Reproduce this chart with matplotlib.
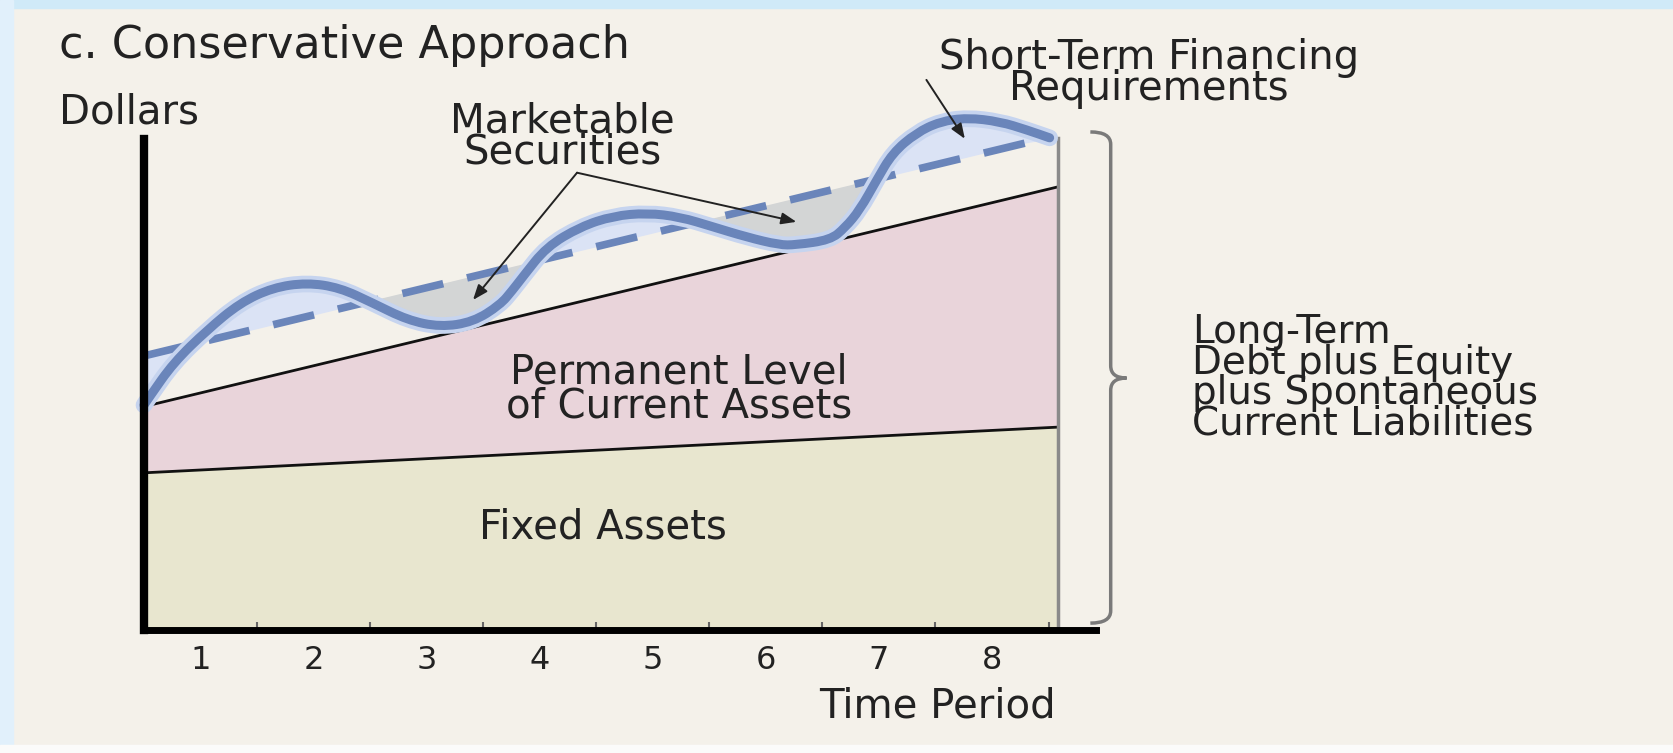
import numpy as np
import matplotlib
matplotlib.use("Agg")
import matplotlib.pyplot as plt
from matplotlib.patches import Rectangle, PathPatch
from matplotlib.path import Path

# ---------------- data ----------------
periods = ['1', '2', '3', '4', '5', '6', '7', '8']
period_centers = [0.5, 1.5, 2.5, 3.5, 4.5, 5.5, 6.5, 7.5]
period_ticks = [1, 2, 3, 4, 5, 6, 7, 8]

# total asset requirement (wavy curve)
curve_t = [0.00, 0.05, 0.26, 0.56, 0.85, 1.14, 1.44, 1.73, 2.02, 2.33, 2.62,
           2.91, 3.15, 3.26, 3.35, 3.56, 3.86, 4.15, 4.45, 4.74, 5.03, 5.33,
           5.62, 5.76, 6.07, 6.20, 6.33, 6.48, 6.62, 6.83, 7.04, 7.28, 7.57,
           7.81, 8.01]
curve_y = [4.58, 4.75, 5.44, 6.11, 6.66, 6.97, 7.07, 6.97, 6.66, 6.31, 6.17,
           6.27, 6.62, 6.92, 7.19, 7.80, 8.21, 8.43, 8.49, 8.41, 8.21, 8.00,
           7.84, 7.84, 7.94, 8.19, 8.55, 9.16, 9.71, 10.12, 10.35, 10.43, 10.35,
           10.18, 10.02]

# long-term financing level (dashed)
dashed_t = [0.0, 7.95]
dashed_y = [5.58, 10.0]

# permanent level of current assets (top of pink band)
permanent_t = [0.0, 8.08]
permanent_y = [4.55, 9.02]

# fixed assets (top of beige band)
fixed_t = [0.0, 8.08]
fixed_y = [3.20, 4.13]

# ---------------- style ----------------
BG = '#f4f1ea'
BEIGE = '#e8e6cf'
PINK = '#e9d4da'
LIGHTBLUE = '#dbe3f5'
GRAY = '#d3d5d5'
CURVE = '#6a85ba'
HALO = '#c6d4ef'
TXT = '#222222'
plt.rcParams['font.family'] = ['DejaVu Sans']

W, H = 1673, 753
fig = plt.figure(figsize=(W / 100, H / 100), dpi=100)
fig.patch.set_facecolor(BG)

# light-blue frame around the panel
fig.patches.append(Rectangle((0, 1 - 8 / H), 1, 8 / H, transform=fig.transFigure,
                             color='#d0eaf8', zorder=-10))
fig.patches.append(Rectangle((0, 0), 13 / W, 1, transform=fig.transFigure,
                             color='#e1f0fb', zorder=-10))
fig.patches.append(Rectangle((0, 0), 1, 8 / H, transform=fig.transFigure,
                             color='#fbfbfa', zorder=-10))

ax = fig.add_axes([144 / W, 123 / H, 952 / W, 529 / H])
ax.set_facecolor('none')
ax.set_xlim(0, 8.42)
ax.set_ylim(0, 10.77)

ct = np.array(curve_t)
cy = np.array(curve_y)
dash_at = np.interp(ct, dashed_t, dashed_y)

# bands
ax.fill_between(fixed_t, 0, fixed_y, color=BEIGE, lw=0, zorder=1)
ax.fill_between(fixed_t, fixed_y, permanent_y, color=PINK, lw=0, zorder=1)
ax.plot(fixed_t, fixed_y, color='#111111', lw=2.0, zorder=2)
ax.plot(permanent_t, permanent_y, color='#111111', lw=2.0, zorder=2)

# fluctuating area between curve and dashed line
ax.fill_between(ct, cy, dash_at, color=LIGHTBLUE, lw=0, zorder=3)
ax.fill_between(ct, cy, dash_at, where=(cy < dash_at) & (ct > 1), interpolate=True,
                color=GRAY, lw=0, zorder=3)

ax.plot(dashed_t, dashed_y, color=CURVE, lw=5.5, linestyle=(0, (5.5, 3.2)),
        dash_capstyle='butt', zorder=4)


def smooth_path(xs, ys):
    """Quadratic Bezier path through the midpoints of the read points."""
    pts = list(zip(xs, ys))
    verts = [pts[0]]
    codes = [Path.MOVETO]
    verts.append(((pts[0][0] + pts[1][0]) / 2, (pts[0][1] + pts[1][1]) / 2))
    codes.append(Path.LINETO)
    for i in range(1, len(pts) - 1):
        mid = ((pts[i][0] + pts[i + 1][0]) / 2, (pts[i][1] + pts[i + 1][1]) / 2)
        verts += [pts[i], mid]
        codes += [Path.CURVE3, Path.CURVE3]
    verts.append(pts[-1])
    codes.append(Path.LINETO)
    return Path(verts, codes)


curve_path = smooth_path(curve_t, curve_y)
ax.add_patch(PathPatch(curve_path, fill=False, edgecolor=HALO, lw=12,
                       capstyle='round', joinstyle='round', zorder=5,
                       clip_on=False))
ax.add_patch(PathPatch(curve_path, fill=False, edgecolor=CURVE, lw=6.5,
                       capstyle='round', joinstyle='round', zorder=6,
                       clip_on=False))

# right edge of the chart area
ax.plot([fixed_t[-1], fixed_t[-1]], [0, curve_y[-1]], color='#8a8a8a', lw=2.5,
        zorder=2)

# axes
for s in ['top', 'right']:
    ax.spines[s].set_visible(False)
ax.spines['left'].set_linewidth(6)
ax.spines['bottom'].set_linewidth(5)
ax.spines['left'].set_bounds(0, 10.0)
ax.spines['left'].set_zorder(7)
ax.spines['bottom'].set_zorder(7)
ax.set_yticks([])
ax.set_xticks(period_ticks)
ax.set_xticklabels([])
ax.tick_params(axis='x', which='major', direction='in', length=6, width=1.5,
               color='#666666')
ax.set_xticks(period_centers, labels=periods, minor=True)
ax.tick_params(axis='x', which='minor', length=0, pad=11, labelsize=23,
               labelcolor=TXT)

# curly brace for long-term financing
bx, bl, bt = 8.55, 8.37, 8.69
ytop, ybot = 10.14, 0.14
ymid = 5.13
verts = [(bl, ytop), (bx, ytop), (bx, ytop - 0.25), (bx, ytop - 0.25),
         (bx, ymid + 0.25), (bx, ymid), (bt, ymid),
         (bx, ymid), (bx, ymid - 0.25), (bx, ymid - 0.25),
         (bx, ybot + 0.25), (bx, ybot), (bl, ybot)]
codes = [Path.MOVETO, Path.CURVE3, Path.CURVE3, Path.LINETO,
         Path.LINETO, Path.CURVE3, Path.CURVE3,
         Path.CURVE3, Path.CURVE3, Path.LINETO,
         Path.LINETO, Path.CURVE3, Path.CURVE3]
ax.add_patch(PathPatch(Path(verts, codes), fill=False, edgecolor='#7a7a7a',
                       lw=2.5, clip_on=False, zorder=2))

# texts (multi-line texts are anchored at the baseline of their last line)
fs = 29
LS = 0.72
fig.text(59 / W, 1 - 58 / H, 'c. Conservative Approach', fontsize=32, color=TXT,
         ha='left', va='baseline')
fig.text(59 / W, 1 - 124 / H, 'Dollars', fontsize=fs, color=TXT,
         ha='left', va='baseline')

ax.text(3.70, 9.49, 'Marketable\nSecurities', fontsize=fs, color=TXT,
        ha='center', va='baseline', multialignment='center', linespacing=LS,
        clip_on=False)
ax.text(8.89, 10.79, 'Short-Term Financing\nRequirements', fontsize=fs,
        color=TXT, ha='center', va='baseline', multialignment='center',
        linespacing=LS, clip_on=False)
ax.text(4.73, 4.32, 'Permanent Level\nof Current Assets', fontsize=fs,
        color=TXT, ha='center', va='baseline', multialignment='center',
        linespacing=0.82, zorder=8)
ax.text(4.06, 1.87, 'Fixed Assets', fontsize=fs, color=TXT, ha='center',
        va='baseline', zorder=8)

fig.text(1192 / W, 1 - 434 / H,
         'Long-Term\nDebt plus Equity\nplus Spontaneous\nCurrent Liabilities',
         fontsize=28, color=TXT, ha='left', va='baseline',
         multialignment='left', linespacing=0.74)

fig.text(1056 / W, 1 - 718 / H, 'Time Period', fontsize=fs, color=TXT,
         ha='right', va='baseline')

# arrows
arrow_kw = dict(arrowstyle='-|>,head_length=0.9,head_width=0.35',
                color='#222222', lw=1.4, shrinkA=0, shrinkB=0)
ax.annotate('', xy=(2.91, 6.72), xytext=(3.83, 9.31), arrowprops=arrow_kw,
            annotation_clip=False, zorder=9)
ax.annotate('', xy=(5.77, 8.31), xytext=(3.83, 9.31), arrowprops=arrow_kw,
            annotation_clip=False, zorder=9)
ax.annotate('', xy=(7.26, 10.0), xytext=(6.92, 11.2), arrowprops=arrow_kw,
            annotation_clip=False, zorder=9)

fig.savefig('out.png', dpi=100, facecolor=fig.get_facecolor())
